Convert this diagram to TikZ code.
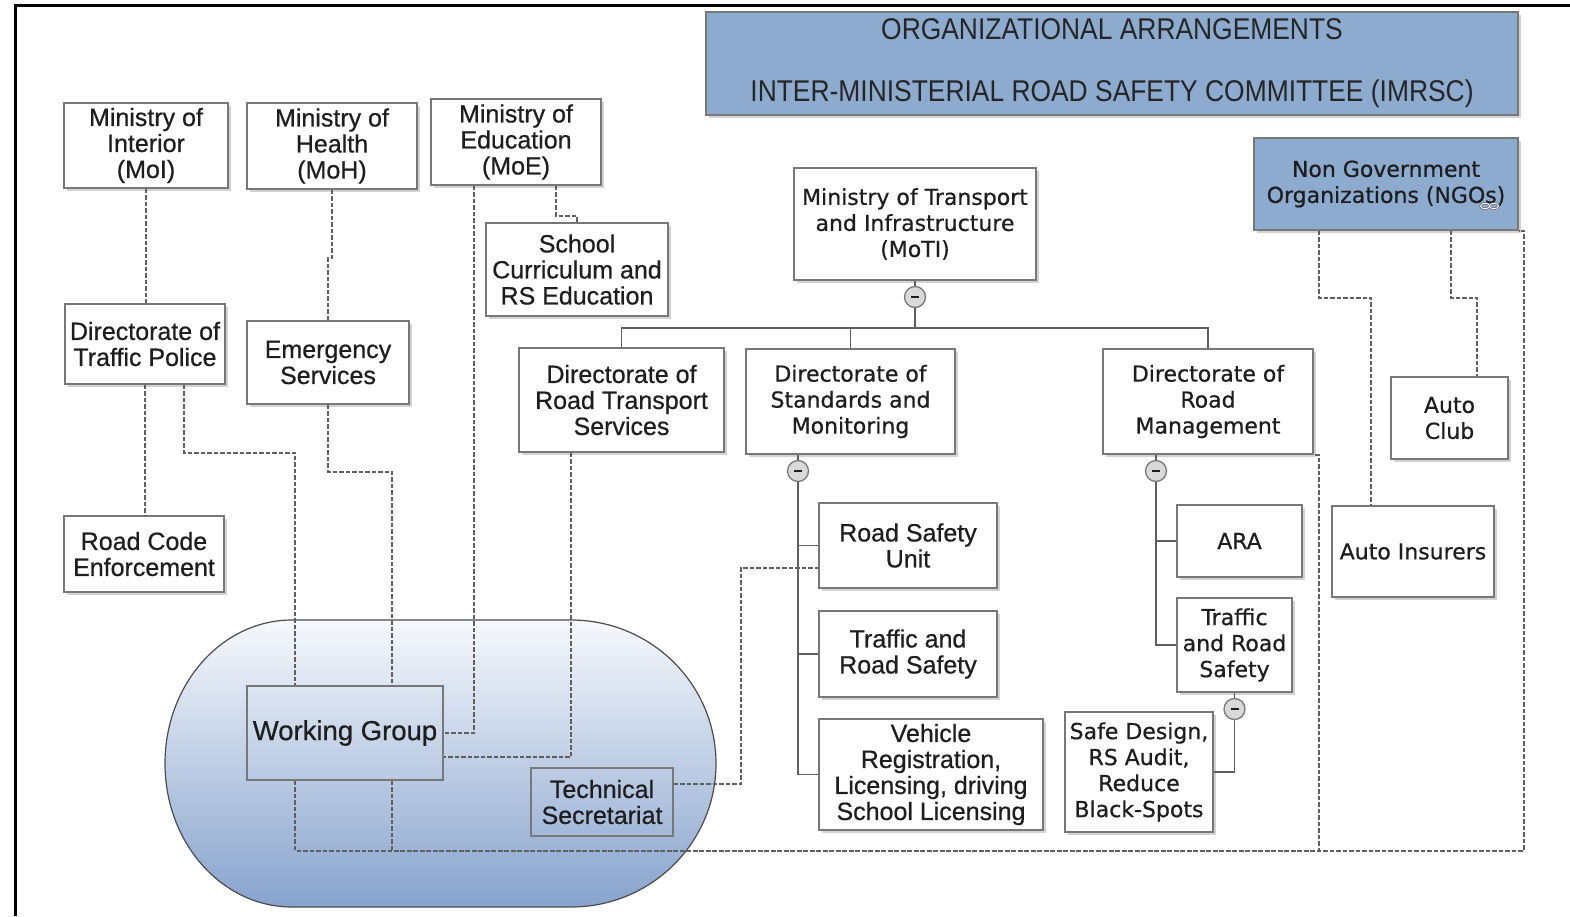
\documentclass[tikz,border=0pt]{standalone}
\usepackage{fontspec}
\setmainfont[FakeBold=0.6]{Liberation Sans}
\newfontfamily\vfnt[FakeBold=0.6]{DejaVu Sans}
\newfontfamily\nfnt[FakeStretch=0.88]{Liberation Sans}
\usetikzlibrary{calc,shadows}
\definecolor{bluefill}{RGB}{141,170,207}
\definecolor{boxline}{RGB}{120,120,120}
\definecolor{txt}{RGB}{30,30,30}
\definecolor{linec}{RGB}{95,95,95}
\definecolor{gradtop}{RGB}{246,248,252}
\definecolor{gradbot}{RGB}{135,163,205}
\begin{document}
\begin{tikzpicture}[x=1pt,y=-1pt,
 box/.style={draw=boxline, line width=1.6pt, fill=white, align=center, inner sep=0pt, text=txt,
   font=\fontsize{25}{26}\selectfont,
   drop shadow={shadow xshift=2.5pt, shadow yshift=-2.5pt, opacity=0.35}},
 vbox/.style={box, font=\vfnt\fontsize{22}{26}\selectfont},
 bluebox/.style={vbox, fill=bluefill},
 openbox/.style={draw=boxline, line width=1.6pt, align=center, inner sep=0pt, text=txt},
 tree/.style={draw=linec, line width=1.6pt},
 link/.style={draw=linec, line width=1.7pt, dash pattern=on 4.5pt off 2pt},
 toggle/.style={circle, draw=boxline, fill=gray!30, line width=1.3pt, minimum size=21pt, inner sep=0pt}
]
\useasboundingbox (0,0) rectangle (1570,916);
\fill[white] (0,0) rectangle (1570,916);
\draw[line width=3pt, black] (15,916) -- (15,5) -- (1570,5);

% working group area
\path[draw=gray!60!black, line width=1.2pt, top color=gradtop, bottom color=gradbot]
  (292,620) -- (571,620) arc[start angle=90, end angle=-90, x radius=145pt, y radius=143.5pt]
  -- (292,907) arc[start angle=270, end angle=90, x radius=127pt, y radius=143.5pt] -- cycle;

% title
\node[box, fill=bluefill, font=\nfnt\fontsize{30}{62}\selectfont, text=black!85, minimum width=812, minimum height=103] (title) at (1112,63.5)
  {ORGANIZATIONAL ARRANGEMENTS\\INTER-MINISTERIAL ROAD SAFETY COMMITTEE (IMRSC)};

% boxes
\node[box, minimum width=164, minimum height=85] (moi) at (146,145.5) {Ministry of\\Interior\\(MoI)};
\node[box, minimum width=170, minimum height=86] (moh) at (332,146) {Ministry of\\Health\\(MoH)};
\node[box, minimum width=170, minimum height=86] (moe) at (516,142) {Ministry of\\Education\\(MoE)};
\node[box, minimum width=182, minimum height=93] (scr) at (577,269.5) {School\\Curriculum and\\RS Education};
\node[box, minimum width=160, minimum height=80] (dtp) at (145,344) {Directorate of\\Traffic Police};
\node[box, minimum width=162, minimum height=83] (es) at (328,362.5) {Emergency\\Services};
\node[box, minimum width=160, minimum height=76] (rce) at (144,554) {Road Code\\Enforcement};
\node[vbox, minimum width=242, minimum height=112] (moti) at (915,224) {Ministry of Transport\\and Infrastructure\\(MoTI)};
\node[box, minimum width=205, minimum height=104] (drts) at (621.5,400) {Directorate of\\Road Transport\\Services};
\node[vbox, minimum width=209, minimum height=105] (dsm) at (850.5,401.5) {Directorate of\\Standards and\\Monitoring};
\node[vbox, minimum width=210, minimum height=105] (drm) at (1208,401.5) {Directorate of\\Road\\Management};
\node[box, minimum width=178, minimum height=85] (rsu) at (908,545.5) {Road Safety\\Unit};
\node[box, minimum width=178, minimum height=86] (trs) at (908,654) {Traffic and\\Road Safety};
\node[box, minimum width=224, minimum height=111] (vr) at (931,774.5) {Vehicle\\Registration,\\Licensing, driving\\School Licensing};
\node[vbox, minimum width=125, minimum height=72] (ara) at (1239.5,541) {ARA};
\node[vbox, minimum width=115, minimum height=94] (trs2) at (1234.5,645) {Traffic\\and Road\\Safety};
\node[vbox, minimum width=148, minimum height=120] (sd) at (1139,772) {Safe Design,\\RS Audit,\\Reduce\\Black-Spots};
\node[bluebox, minimum width=264, minimum height=92] (ngo) at (1386,184) {Non Government\\Organizations (NGOs)};
\node[vbox, minimum width=117, minimum height=82] (ac) at (1449.5,418) {Auto\\Club};
\node[vbox, minimum width=162, minimum height=91] (ai) at (1413,551.5) {Auto Insurers};
\node[openbox, font=\fontsize{27.5}{28}\selectfont, minimum width=196, minimum height=94] (wg) at (345,733) {Working Group};
\node[openbox, font=\fontsize{25}{26}\selectfont, minimum width=142, minimum height=68] (ts) at (602,802) {Technical\\Secretariat};

% link icon in NGO box
\draw[gray!60!black, line width=2pt] (1485,206) ellipse [x radius=4.5pt, y radius=2.8pt] (1494,206) ellipse [x radius=4.5pt, y radius=2.8pt];
\draw[white, line width=1pt] (1485,206) ellipse [x radius=4.5pt, y radius=2.8pt] (1494,206) ellipse [x radius=4.5pt, y radius=2.8pt];

% dashed links
\draw[link] (moi.south) -- (moi.south |- dtp.north);
\draw[link] (dtp.south) -- (dtp.south |- rce.north);
\draw[link] ($(dtp.south)+(39,0)$) -- ++(0,68) -| ($(wg.north west)+(49,0)$);
\draw[link] (moh.south) -- ++(0,68) -| (es.north);
\draw[link] (es.south) -- ++(0,67) -| ($(wg.north west)+(146,0)$);
\draw[link] ($(moe.south west)+(44,0)$) |- (wg.east);
\draw[link] ($(moe.south west)+(126,0)$) -- ++(0,30) -| (scr.north);
\draw[link] ($(drts.south west)+(53,0)$) |- ($(wg.south east)+(0,-24)$);
\draw[link] ($(ts.north east)+(0,17)$) -- ++(67,0) |- ($(rsu.south west)+(0,-21)$);
\draw[link] ($(wg.south west)+(49,0)$) -- ++(0,70) -| ($(drm.south east)+(5,0)$) -- (drm.south east);
\draw[link] ($(wg.south west)+(146,0)$) -- ++(0,70) -| ($(ngo.south east)+(5,0)$) -- (ngo.south east);
\draw[link] ($(ngo.south west)+(66,0)$) -- ++(0,67) -| ($(ai.north west)+(40,0)$);
\draw[link] ($(ngo.south west)+(198,0)$) -- ++(0,67) -| ($(ac.north west)+(87,0)$);

% tree
\node[toggle] (c1) at (915,297) {\textcolor{txt}{\rule[-1.2pt]{8pt}{2.4pt}}};
\coordinate (bus) at (915,328);
\draw[tree] (moti.south) -- (c1);
\draw[tree] (c1) -- (bus);
\draw[tree] (drts.north) |- (bus) -| (drm.north);
\draw[tree] (dsm.north) -- (dsm.north |- bus);

\node[toggle] (c2) at (798,471) {\textcolor{txt}{\rule[-1.2pt]{8pt}{2.4pt}}};
\draw[tree] (c2 |- dsm.south) -- (c2);
\draw[tree] (c2) |- (vr.west);
\draw[tree] (c2 |- rsu.west) -- (rsu.west);
\draw[tree] (c2 |- trs.west) -- (trs.west);

\node[toggle] (c3) at (1156,471) {\textcolor{txt}{\rule[-1.2pt]{8pt}{2.4pt}}};
\draw[tree] (c3 |- drm.south) -- (c3);
\draw[tree] (c3) |- (trs2.west);
\draw[tree] (c3 |- ara.west) -- (ara.west);

\node[toggle] (c4) at (1234.5,709) {\textcolor{txt}{\rule[-1.2pt]{8pt}{2.4pt}}};
\draw[tree] (trs2.south) -- (c4);
\draw[tree] (c4) |- (sd.east);
\end{tikzpicture}
\end{document}
